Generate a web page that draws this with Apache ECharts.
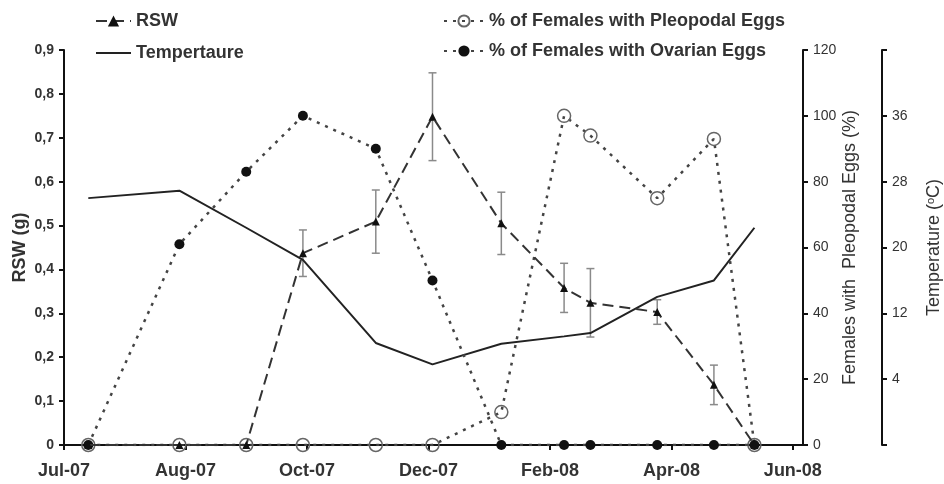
<!DOCTYPE html>
<html>
<head>
<meta charset="utf-8">
<script src="https://cdn.jsdelivr.net/npm/echarts@6/dist/echarts.min.js"></script>
<style>
html,body{margin:0;padding:0;background:#fff;}
#chart{width:944px;height:484px;}
</style>
</head>
<body>
<div id="chart"></div>
<script>
// ---- data ----
const dates = ['2007-07-13','2007-08-27','2007-09-29','2007-10-27','2007-12-02','2007-12-30',
               '2008-02-02','2008-03-04','2008-03-17','2008-04-19','2008-05-17','2008-06-06'];
const rsw = [0, 0, 0, 0.437, 0.509, 0.748, 0.505, 0.358, 0.324, 0.303, 0.137, 0];
const rswErr = [0, 0, 0, 0.053, 0.072, 0.100, 0.071, 0.056, 0.078, 0.028, 0.045, 0];
const temperature = [26.0, 26.9, 22.4, 18.5, 8.4, 5.8, 8.3, 9.2, 9.6, 14.0, 16.0, 22.4];
const pleopodal = [0, 0, 0, 0, 0, 0, 10, 100, 94, 75, 93, 0];
const ovarian = [0, 61, 83, 100, 90, 50, 0, 0, 0, 0, 0, 0];

const xMinDate = '2007-07-01';
const xMaxDate = '2008-06-30';
const xTickDates = ['2007-07-01','2007-08-30','2007-10-29','2007-12-28','2008-02-26','2008-04-26','2008-06-25'];
const tempTickValues = [-4, 4, 12, 20, 28, 36, 44];
const tempLabelValues = [4, 12, 20, 28, 36];
const monthNames = ['Jan','Feb','Mar','Apr','May','Jun','Jul','Aug','Sep','Oct','Nov','Dec'];

const FONT = '"Liberation Sans", Arial, sans-serif';
const ts = s => Date.parse(s + 'T00:00:00Z');

const chart = echarts.init(document.getElementById('chart'));

const pair = arr => dates.map((d, i) => [ts(d), arr[i]]);

const legendText = { fontSize: 18, fontWeight: 'bold', color: '#333', fontFamily: FONT };

const option = {
  backgroundColor: '#fff',
  animation: false,
  textStyle: { fontFamily: FONT },
  grid: { left: 64, right: 141, top: 50, bottom: 39, containLabel: false, outerBoundsMode: 'none' },
  legend: [
    {
      data: ['RSW', { name: 'Tempertaure', icon: 'path://M0,0 L35,0 L35,2 L0,2 Z' }],
      orient: 'vertical', left: 90, top: 7,
      itemWidth: 35, itemHeight: 14, itemGap: 14,
      textStyle: legendText,
      selectedMode: false
    },
    {
      data: ['% of Females with Pleopodal Eggs', '% of Females with Ovarian Eggs'],
      orient: 'vertical', left: 438, top: 7,
      itemWidth: 40, itemHeight: 14, itemGap: 12,
      textStyle: legendText,
      selectedMode: false
    }
  ],
  xAxis: {
    type: 'value',
    min: ts(xMinDate), max: ts(xMaxDate),
    axisLine: { show: true, onZero: false, lineStyle: { color: '#111', width: 2 } },
    axisTick: { show: true, length: 5, lineStyle: { color: '#111', width: 2 }, customValues: xTickDates.map(ts) },
    axisLabel: {
      customValues: xTickDates.map(ts),
      margin: 17,
      fontSize: 18, fontWeight: 'bold', color: '#333', fontFamily: FONT,
      formatter: v => { const d = new Date(v); return monthNames[d.getUTCMonth()] + '-' + String(d.getUTCFullYear()).slice(2); }
    },
    splitLine: { show: false }
  },
  yAxis: [
    {
      type: 'value', position: 'left', min: 0, max: 0.9, interval: 0.1,
      name: 'RSW (g)', nameLocation: 'middle', nameGap: 35, nameMoveOverlap: false,
      nameTextStyle: { fontSize: 18, fontWeight: 'bold', color: '#333', fontFamily: FONT },
      axisLine: { show: true, lineStyle: { color: '#111', width: 2 } },
      axisTick: { show: true, length: 5, lineStyle: { color: '#111', width: 2 } },
      axisLabel: {
        margin: 10, fontSize: 14, fontWeight: 'bold', color: '#333', fontFamily: FONT,
        formatter: v => (Math.round(v * 10) / 10).toString().replace('.', ',')
      },
      splitLine: { show: false }
    },
    {
      type: 'value', position: 'right', min: 0, max: 120, interval: 20,
      name: 'Females with  Pleopodal Eggs (%)', nameLocation: 'middle', nameGap: 38, nameMoveOverlap: false,
      nameTextStyle: { fontSize: 18, color: '#333', fontFamily: FONT },
      axisLine: { show: true, lineStyle: { color: '#111', width: 2 } },
      axisTick: { show: true, length: 5, lineStyle: { color: '#111', width: 2 } },
      axisLabel: { margin: 10, fontSize: 14, color: '#333', fontFamily: FONT },
      splitLine: { show: false }
    },
    {
      type: 'value', position: 'right', offset: 79, min: -4, max: 44,
      name: 'Temperature ({sup|o}C)', nameLocation: 'middle', nameGap: 43, nameMoveOverlap: false,
      nameTextStyle: {
        fontSize: 18, color: '#333', fontFamily: FONT,
        rich: { sup: { fontSize: 11, color: '#333', fontFamily: FONT, verticalAlign: 'top', padding: [0, 0, 8, 0] } }
      },
      axisLine: { show: true, lineStyle: { color: '#111', width: 2 } },
      axisTick: { show: true, length: 5, lineStyle: { color: '#111', width: 2 }, customValues: tempTickValues },
      axisLabel: { margin: 10, fontSize: 14, color: '#333', fontFamily: FONT, customValues: tempLabelValues },
      splitLine: { show: false }
    }
  ],
  series: [
    {
      name: 'RSW error', type: 'custom', yAxisIndex: 0, z: 1, silent: true,
      data: dates.map((d, i) => [ts(d), rsw[i] - rswErr[i], rsw[i] + rswErr[i]]).filter(e => e[2] > e[1]),
      encode: { x: 0, y: [1, 2] },
      renderItem: (params, api) => {
        const x = api.value(0);
        const lo = api.coord([x, api.value(1)]);
        const hi = api.coord([x, api.value(2)]);
        const w = 4;
        const st = { stroke: '#8a8a8a', lineWidth: 1.5 };
        return {
          type: 'group',
          children: [
            { type: 'line', shape: { x1: lo[0], y1: lo[1], x2: hi[0], y2: hi[1] }, style: st },
            { type: 'line', shape: { x1: lo[0] - w, y1: lo[1], x2: lo[0] + w, y2: lo[1] }, style: st },
            { type: 'line', shape: { x1: hi[0] - w, y1: hi[1], x2: hi[0] + w, y2: hi[1] }, style: st }
          ]
        };
      }
    },
    {
      name: 'Tempertaure', type: 'line', yAxisIndex: 2, z: 2,
      data: pair(temperature), symbol: 'none',
      lineStyle: { color: '#222', width: 2, type: 'solid' },
      itemStyle: { color: '#222' }
    },
    {
      name: '% of Females with Pleopodal Eggs', type: 'line', yAxisIndex: 1, z: 3,
      data: pair(pleopodal), symbol: 'circle', symbolSize: 13,
      lineStyle: { color: '#444', width: 2.5, type: [3, 6] },
      itemStyle: { color: 'rgba(255,255,255,0)', borderColor: '#666', borderWidth: 1.5 }
    },
    {
      name: '% of Females with Ovarian Eggs', type: 'line', yAxisIndex: 1, z: 4,
      data: pair(ovarian), symbol: 'circle', symbolSize: 10,
      lineStyle: { color: '#444', width: 2.5, type: [3, 6] },
      itemStyle: { color: '#111' }
    },
    {
      name: 'RSW', type: 'line', yAxisIndex: 0, z: 5,
      data: pair(rsw), symbol: 'triangle', symbolSize: 8,
      lineStyle: { color: '#333', width: 2, type: [11, 6] },
      itemStyle: { color: '#111' }
    }
  ]
};
chart.setOption(option);
</script>
</body>
</html>
